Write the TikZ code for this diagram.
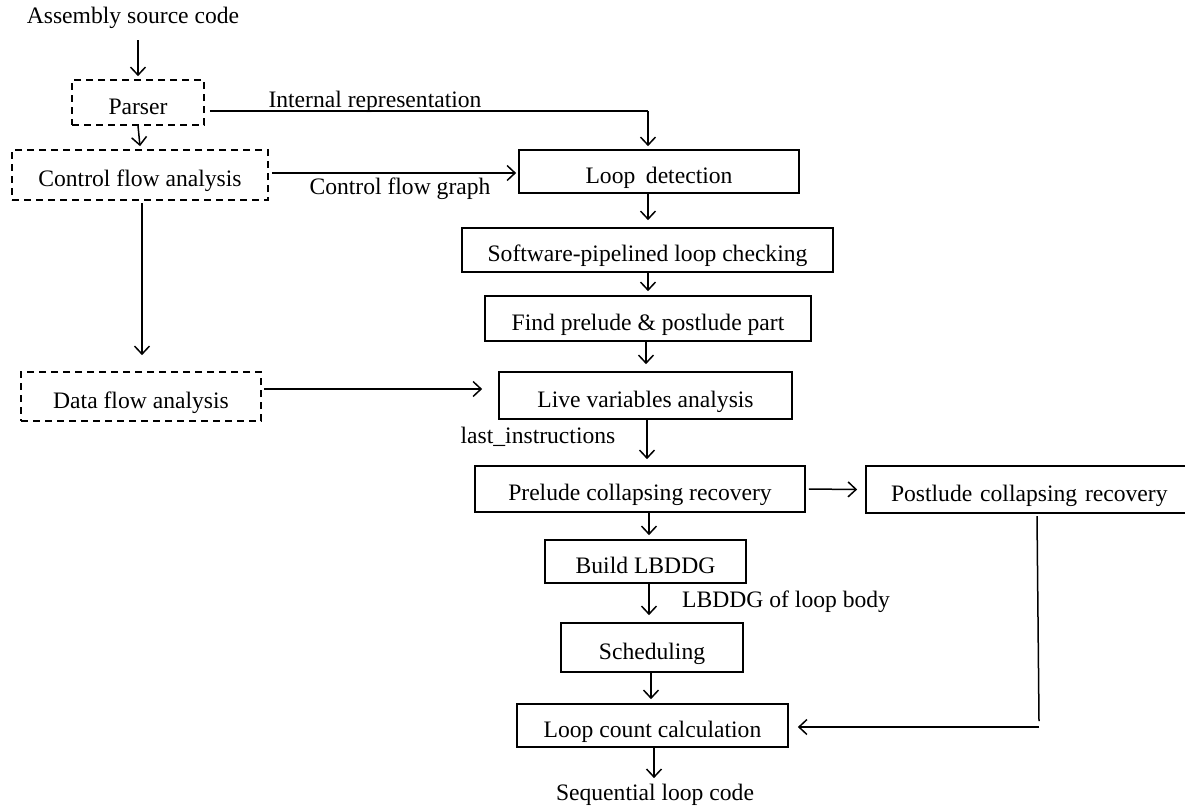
\documentclass[tikz,border=0pt]{standalone}
\usepackage{fontspec}
\setmainfont{Liberation Serif}
\usetikzlibrary{arrows.meta}
\tikzset{
  box/.style={draw, line width=1.7pt, inner sep=0pt, text height=23pt, text depth=0pt, font=\fontsize{23.6}{27}\selectfont},
  dbox/.style={box, dash pattern=on 7pt off 5pt},
  lbl/.style={inner sep=0pt, font=\fontsize{23.6}{27}\selectfont},
  arr/.style={line width=1.5pt, -{Straight Barb[length=8pt,width=15pt,line width=1.5pt]}},
  ln/.style={line width=1.5pt},
}
\begin{document}
\begin{tikzpicture}[x=1pt,y=-1pt]
\useasboundingbox (0,0) rectangle (1185,807);
% nodes: centre, width, height
\node[lbl] (src) at (133,18) {Assembly source code};
\node[dbox, minimum width=132pt, minimum height=45pt] (parser) at (138,102.5) {Parser};
\node[dbox, minimum width=256pt, minimum height=50pt] (cfa) at (140,175) {Control flow analysis};
\node[dbox, minimum width=240pt, minimum height=49pt] (dfa) at (141,396.5) {Data flow analysis};
\node[box, minimum width=280pt, minimum height=43pt] (loopdet) at (659,171.5) {Loop\hspace{0.45em}detection};
\node[box, minimum width=371pt, minimum height=44pt] (swp) at (647.5,250) {Software-pipelined loop checking};
\node[box, minimum width=326pt, minimum height=45pt] (find) at (648,318.5) {Find prelude \& postlude part};
\node[box, minimum width=293pt, minimum height=47pt] (live) at (645.5,395.5) {Live variables analysis};
\node[box, minimum width=330pt, minimum height=46pt] (prelude) at (640,489) {Prelude collapsing recovery};
\node[box, minimum width=320pt, minimum height=47pt, text width=310pt, align=left] (postlude) at (1026,489.5) {\hspace{20pt}Postlude collapsing recovery};
\node[box, minimum width=201pt, minimum height=43pt] (build) at (645.5,561.5) {Build LBDDG};
\node[box, minimum width=182pt, minimum height=49pt] (sched) at (652,647.5) {Scheduling};
\node[box, minimum width=271pt, minimum height=43pt] (count) at (652.5,725.5) {Loop count calculation};
\node[lbl] (seq) at (655,795) {Sequential loop code};
% labels
\node[lbl] (lir) at (375,102) {Internal representation};
\node[lbl] (lcfg) at (400,189) {Control flow graph};
\node[lbl] (llast) at (538,437) {last\_instructions};
\node[lbl, anchor=west] (lbody) at (682,602) {LBDDG of loop body};
% coordinates
\coordinate (c1) at (648,111);
\coordinate (c2) at (1039,727);
% connectors
\draw[arr] (138,40) -- ([yshift=3pt]parser.north);
\draw[arr] (parser.south) -- ([yshift=3pt]cfa.north);
\draw[ln] ([xshift=5pt]parser.east |- c1) -- (c1);
\draw[arr] (c1) -- ([yshift=3pt]c1 |- loopdet.north);
\draw[arr] ([xshift=3pt]cfa.east |- 0,173) -- ([xshift=-2pt]loopdet.west |- 0,173);
\draw[arr] (142,203) -- ([yshift=16pt]dfa.north -| 142,0);
\draw[arr] ([xshift=2pt]dfa.east |- 0,389) -- ([xshift=-16pt]live.west |- 0,389);
\draw[arr] (648,194) -- ([yshift=7pt]swp.north -| 648,0);
\draw[arr] (648,273) -- ([yshift=4pt]find.north -| 648,0);
\draw[arr] (646,342) -- ([yshift=7pt]live.north -| 646,0);
\draw[arr] (647,420) -- ([yshift=6pt]prelude.north -| 647,0);
\draw[arr] ([xshift=3pt]prelude.east) -- ([xshift=-8pt]postlude.west);
\draw[arr] (649,513) -- ([yshift=4pt]build.north -| 649,0);
\draw[arr] (649,584) -- ([yshift=7pt]sched.north -| 649,0);
\draw[arr] (651,673) -- ([yshift=4pt]count.north -| 651,0);
\draw[ln] (1037,516) -- (1039,721);
\draw[arr] (c2) -- ([xshift=9pt]count.east |- c2);
\draw[arr] (654,748) -- ([yshift=6pt]seq.north -| 654,0);
\end{tikzpicture}
\end{document}
